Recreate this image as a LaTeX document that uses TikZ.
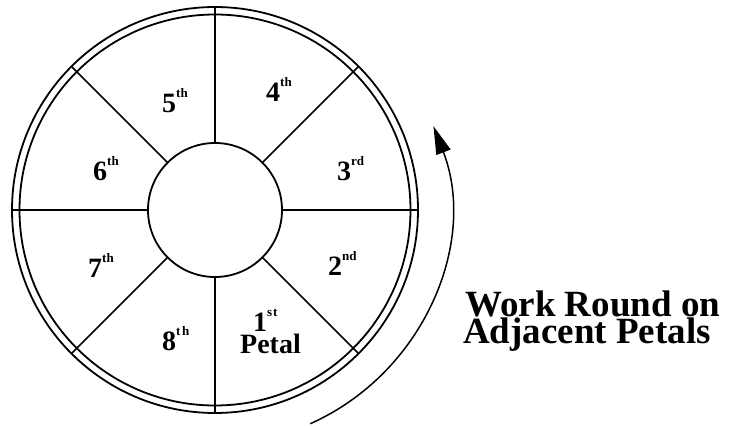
\documentclass[tikz,border=0pt]{standalone}
\usepackage{fontspec}
\setmainfont{Liberation Serif}
\usetikzlibrary{positioning,arrows.meta}

\newcommand{\petalnum}[2]{{\fontsize{28}{28}\selectfont #1}\raisebox{15pt}{\fontsize{13}{13}\selectfont #2}}

\begin{document}
\begin{tikzpicture}[
        x=1pt, y=1pt,
        ring/.style  = {line width=1.8pt},
        spoke/.style = {line width=1.5pt},
        petal/.style = {inner sep=0pt, anchor=base west, font=\bfseries},
        note/.style  = {petal, font=\bfseries\fontsize{37}{37}\selectfont},
        turn/.style  = {line width=1.5pt, -{Triangle[length=28pt,width=15pt]}}
    ]
        \useasboundingbox (0,0) rectangle (729,426);
        \coordinate (c) at (215,216);
        \draw[ring] (c) circle[radius=203];
        \draw[ring] (c) circle[radius=195.5];
        \draw[ring] (c) circle[radius=67];
        \foreach \a in {0,45,...,315}
            \draw[spoke] ([shift={(\a:67)}]c) -- ([shift={(\a:203)}]c);
        \node[petal, text depth=0pt] (p1) at (253,94)  {\petalnum{1}{s\kern0.8pt t}};
        \node[petal, text height=19pt] (pl) at (240,72)  {\fontsize{28}{28}\selectfont Petal};
        \node[petal] (p2) at (328,150) {\petalnum{2}{nd}};
        \node[petal] (p3) at (337,245) {\petalnum{3}{rd}};
        \node[petal] (p4) at (266,324) {\petalnum{4}{th}};
        \node[petal] (p5) at (162,313) {\petalnum{5}{th}};
        \node[petal] (p6) at (93,245)  {\petalnum{6}{th}};
        \node[petal] (p7) at (88,148)  {\petalnum{7}{th}};
        \node[petal] (p8) at (162,75)  {\petalnum{8}{t\kern1.5pt h}};
        % direction of working
        \coordinate (s) at ([shift={(-66:234)}]c);
        \draw[turn] (s) arc[start angle=-66, end angle=21, radius=234];
        \node[note, text depth=0pt]    (work) at (465,109) {Work Round on};
        \node[note, text height=25pt]  (adj)  at (463,82)  {Adjacent Petals};
    \end{tikzpicture}
\end{document}
